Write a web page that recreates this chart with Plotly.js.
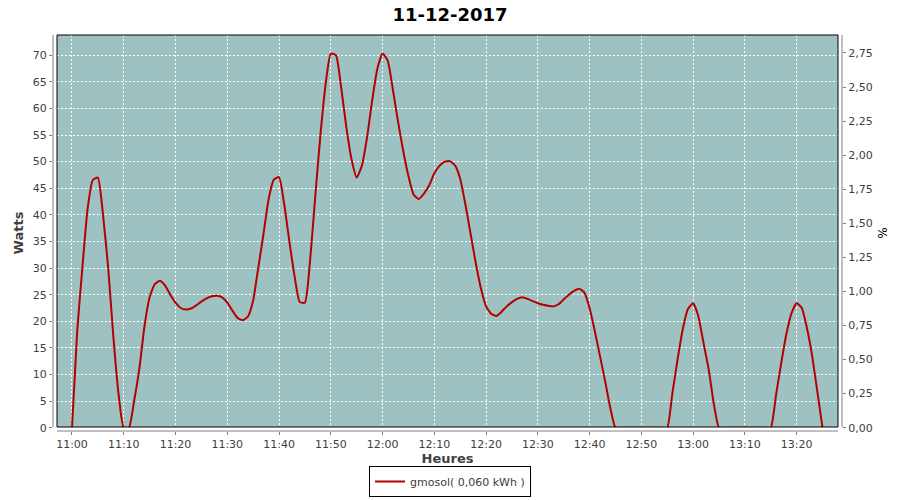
<!DOCTYPE html>
<html>
<head>
<meta charset="utf-8">
<script src="https://cdn.plot.ly/plotly-3.0.1.min.js"></script>
<style>html,body{margin:0;padding:0;background:#fff;}#chart{width:900px;height:500px;}</style>
</head>
<body>
<div id="chart"></div>
<script>
const chartTitle = '11-12-2017';
const day = '2017-12-11';
const seriesName = 'gmosol( 0,060 kWh )';
const times = [
 '11:00','11:01','11:02','11:03','11:04','11:05','11:06','11:07','11:08','11:09',
 '11:10','11:11','11:12','11:13','11:14','11:15','11:16','11:17','11:18','11:19',
 '11:20','11:21','11:22','11:23','11:24','11:25','11:26','11:27','11:28','11:29',
 '11:30','11:31','11:32','11:33','11:34','11:35','11:36','11:37','11:38','11:39',
 '11:40','11:41','11:42','11:43','11:44','11:45','11:46','11:47','11:48','11:49',
 '11:50','11:51','11:52','11:53','11:54','11:55','11:56','11:57','11:58','11:59',
 '12:00','12:01','12:02','12:03','12:04','12:05','12:06','12:07','12:08','12:09',
 '12:10','12:11','12:12','12:13','12:14','12:15','12:16','12:17','12:18','12:19',
 '12:20','12:21','12:22','12:23','12:24','12:25','12:26','12:27','12:28','12:29',
 '12:30','12:31','12:32','12:33','12:34','12:35','12:36','12:37','12:38','12:39',
 '12:40','12:41','12:42','12:43','12:44','12:45','12:46','12:47','12:48','12:49',
 '12:50','12:51','12:52','12:53','12:54','12:55','12:56','12:57','12:58','12:59',
 '13:00','13:01','13:02','13:03','13:04','13:05','13:06','13:07','13:08','13:09',
 '13:10','13:11','13:12','13:13','13:14','13:15','13:16','13:17','13:18','13:19',
 '13:20','13:21','13:22','13:23','13:24','13:25'
];
const watts = [
 0, 18, 30, 41, 46.5, 47, 40, 30, 17, 6.3,
 0, 0, 5, 11, 19, 24.5, 27, 27.6, 26.7, 25,
 23.5, 22.5, 22.2, 22.4, 23, 23.7, 24.3, 24.7, 24.8, 24.5,
 23.5, 22, 20.6, 20.2, 20.9, 23.9, 30.1, 36.4, 43, 46.6,
 47.1, 42, 35, 28.5, 23.6, 23.5, 31.4, 43.5, 55, 64.5,
 70.3, 70, 64, 56.5, 50.5, 47, 49.2, 54.5, 61.5, 67.5,
 70.3, 69, 63.5, 57.5, 52, 47.3, 43.8, 43, 44, 45.5,
 47.8, 49.2, 50, 50.1, 49.3, 46.8, 42, 36.5, 31, 26.2,
 22.8, 21.4, 21, 21.8, 22.8, 23.6, 24.2, 24.5, 24.2, 23.8,
 23.4, 23.1, 22.9, 22.8, 23.2, 24.1, 25, 25.7, 26.1, 25.4,
 22.5, 18.2, 13.5, 8.8, 3.7, 0, 0, 0, 0, 0,
 0, 0, 0, 0, 0, 0, 6.5, 12.8, 18.5, 22.3,
 23.4, 21, 16, 11, 4.5, 0, 0, 0, 0, 0,
 0, 0, 0, 0, 0, 0, 6, 12, 17.5, 21.5,
 23.4, 22.5, 18.7, 13.5, 6.8, 0
];
// axis ranges (outer frame includes the small gap between plot border and axis lines)
const xRange = ['2017-12-11 10:56:20', '2017-12-11 13:28:46'];
const yRange = [-0.62, 73.8];
const y2Range = [-0.0242, 2.882];

const W = 900, H = 500;
const ml = 53, mr = 58, mt = 35, mb = 69;
const pw = W - ml - mr, ph = H - mt - mb;
const gap = 4;
const xi0 = gap / pw, xi1 = 1 - gap / pw, yi0 = gap / ph;

const tickFont = {family: 'DejaVu Sans, sans-serif', size: 11, color: '#404040'};
const trace = {
  x: times.map(t => day + ' ' + t + ':00'),
  y: watts,
  type: 'scatter',
  mode: 'lines',
  name: seriesName,
  line: {color: '#b40000', width: 2, shape: 'spline', smoothing: 0.5},
  hoverinfo: 'skip'
};
const pctTrace = {x: [], y: [], type: 'scatter', mode: 'lines', yaxis: 'y2', showlegend: false, hoverinfo: 'skip'};

const white = 'rgba(255,255,255,1)';
const layout = {
  width: W, height: H,
  margin: {l: ml, r: mr, t: mt, b: mb, pad: 0},
  paper_bgcolor: '#ffffff',
  plot_bgcolor: '#ffffff',
  separators: ', ',
  title: {text: chartTitle, font: {family: 'DejaVu Sans, sans-serif', size: 18, color: '#000', weight: 'bold'},
          x: 0.5, xref: 'container', y: 1 - 15/H, yref: 'container', yanchor: 'middle', xanchor: 'center'},
  xaxis: {
    type: 'date', range: xRange,
    tickformat: '%H:%M', dtick: 600000, tick0: '2017-12-11 11:00:00', tickangle: 0,
    showline: false,
    ticks: 'outside', ticklen: 3, tickcolor: '#808080',
    showgrid: true, gridcolor: '#ffffff', griddash: '2px,2px', gridwidth: 1,
    zeroline: false, tickfont: tickFont,
    title: {text: 'Heures', font: {family: 'DejaVu Sans, sans-serif', size: 13, color: '#404040', weight: 'bold'}, standoff: 6}
  },
  yaxis: {
    range: yRange,
    dtick: 5, tick0: 0,
    showline: false,
    ticks: 'outside', ticklen: 3, tickcolor: '#808080',
    showgrid: true, gridcolor: '#ffffff', griddash: '2px,2px', gridwidth: 1,
    zeroline: false, tickfont: tickFont,
    title: {text: 'Watts', font: {family: 'DejaVu Sans, sans-serif', size: 13, color: '#404040', weight: 'bold'}, standoff: 6}
  },
  yaxis2: {
    range: y2Range,
    overlaying: 'y', side: 'right',
    dtick: 0.25, tick0: 0, tickformat: '.2f',
    showline: false,
    ticks: 'outside', ticklen: 3, tickcolor: '#808080',
    showgrid: false, zeroline: false, tickfont: tickFont,
    title: {text: '%', font: {family: 'DejaVu Sans, sans-serif', size: 12, color: '#000'}, standoff: 6}
  },
  showlegend: true,
  legend: {
    orientation: 'h', x: (450 - ml) / pw, xanchor: 'center',
    yref: 'container', y: (H - 466) / H, yanchor: 'top',
    bordercolor: '#000', borderwidth: 1, bgcolor: '#fff',
    font: {family: 'DejaVu Sans, sans-serif', size: 11, color: '#404040'},
    itemwidth: 30
  },
  shapes: [
    {type: 'rect', xref: 'paper', yref: 'paper', x0: xi0, x1: xi1, y0: yi0, y1: 1,
     line: {width: 0}, fillcolor: '#9ec2c1', layer: 'below'},
    {type: 'rect', xref: 'paper', yref: 'paper', x0: 0, x1: 1, y0: 0, y1: yi0, line: {width: 0}, fillcolor: white, layer: 'above'},
    {type: 'rect', xref: 'paper', yref: 'paper', x0: 0, x1: xi0, y0: 0, y1: 1, line: {width: 0}, fillcolor: white, layer: 'above'},
    {type: 'rect', xref: 'paper', yref: 'paper', x0: xi1, x1: 1, y0: 0, y1: 1, line: {width: 0}, fillcolor: white, layer: 'above'},
    {type: 'rect', xref: 'paper', yref: 'paper', x0: xi0, x1: xi1, y0: yi0, y1: 1,
     line: {color: '#000', width: 1}, fillcolor: 'rgba(0,0,0,0)', layer: 'above'},
    {type: 'line', xref: 'paper', yref: 'paper', x0: 0, x1: 0, y0: yi0, y1: 1, line: {color: '#808080', width: 1}, layer: 'above'},
    {type: 'line', xref: 'paper', yref: 'paper', x0: 1, x1: 1, y0: yi0, y1: 1, line: {color: '#808080', width: 1}, layer: 'above'},
    {type: 'line', xref: 'paper', yref: 'paper', x0: xi0, x1: xi1, y0: 0, y1: 0, line: {color: '#808080', width: 1}, layer: 'above'}
  ]
};

Plotly.newPlot('chart', [trace, pctTrace], layout, {staticPlot: true, displayModeBar: false});
</script>
</body>
</html>
